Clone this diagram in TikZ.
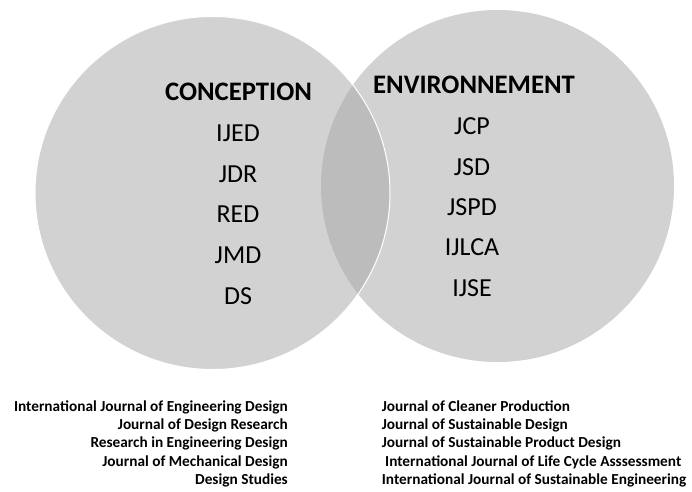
\documentclass[tikz,border=0pt]{standalone}
\usepackage{fontspec}
\setmainfont{Carlito}
\definecolor{circgray}{RGB}{210,210,210}
\definecolor{lensgray}{RGB}{188,188,188}
\begin{document}
\begin{tikzpicture}[x=1pt,y=1pt,
  head/.style={font=\fontsize{26.7}{32}\selectfont\bfseries, inner sep=0pt, text height=17pt, text depth=0pt},
  abbr/.style={font=\fontsize{26}{31}\selectfont, inner sep=0pt, text height=16.7pt, text depth=0pt},
  jl/.style={font=\fontsize{15.3}{18}\selectfont\bfseries, inner sep=0pt, anchor=base east},
  jr/.style={font=\fontsize{15.3}{18}\selectfont\bfseries, inner sep=0pt, anchor=base west}]
\fill[white] (0,0) rectangle (692,491);
\useasboundingbox (0,0) rectangle (692,491);
\fill[circgray] (212.5,298) ellipse [x radius=177.5, y radius=176.5];
\fill[circgray] (497.5,305) ellipse [x radius=176.5, y radius=176];
\begin{scope}
  \clip (212.5,298) ellipse [x radius=177.5, y radius=176.5];
  \fill[lensgray] (497.5,305) ellipse [x radius=176.5, y radius=176];
\end{scope}
\draw[white, line width=1pt] (212.5,298) ellipse [x radius=177.5, y radius=176.5];

\node[head] (conc) at (238.5,399) {CONCEPTION};
\node[abbr] (ijed) at (238,358) {IJED};
\node[abbr] (jdr) at (238,317) {JDR};
\node[abbr] (red) at (238,277) {RED};
\node[abbr] (jmd) at (238,236) {JMD};
\node[abbr] (ds) at (238,195) {DS};

\node[head] (env) at (474,406) {ENVIRONNEMENT};
\node[abbr] (jcp) at (472,365) {JCP};
\node[abbr] (jsd) at (472,324) {JSD};
\node[abbr] (jspd) at (472,284) {JSPD};
\node[abbr] (ijlca) at (472,244) {IJLCA};
\node[abbr] (ijse) at (472,203) {IJSE};

\node[jl] (l1) at (288,79.3) {International Journal of Engineering Design};
\node[jl] (l2) at (288,61.2) {Journal of Design Research};
\node[jl] (l3) at (288,43.1) {Research in Engineering Design};
\node[jl] (l4) at (288,25) {Journal of Mechanical Design};
\node[jl] (l5) at (288,7) {Design Studies};

\node[jr] (r1) at (381.7,79.3) {Journal of Cleaner Production};
\node[jr] (r2) at (381.7,61.2) {Journal of Sustainable Design};
\node[jr] (r3) at (381.7,43.1) {Journal of Sustainable Product Design};
\node[jr] (r4) at (385,25) {International Journal of Life Cycle Asssessment};
\node[jr] (r5) at (381.7,7) {International Journal of Sustainable Engineering};
\end{tikzpicture}
\end{document}
